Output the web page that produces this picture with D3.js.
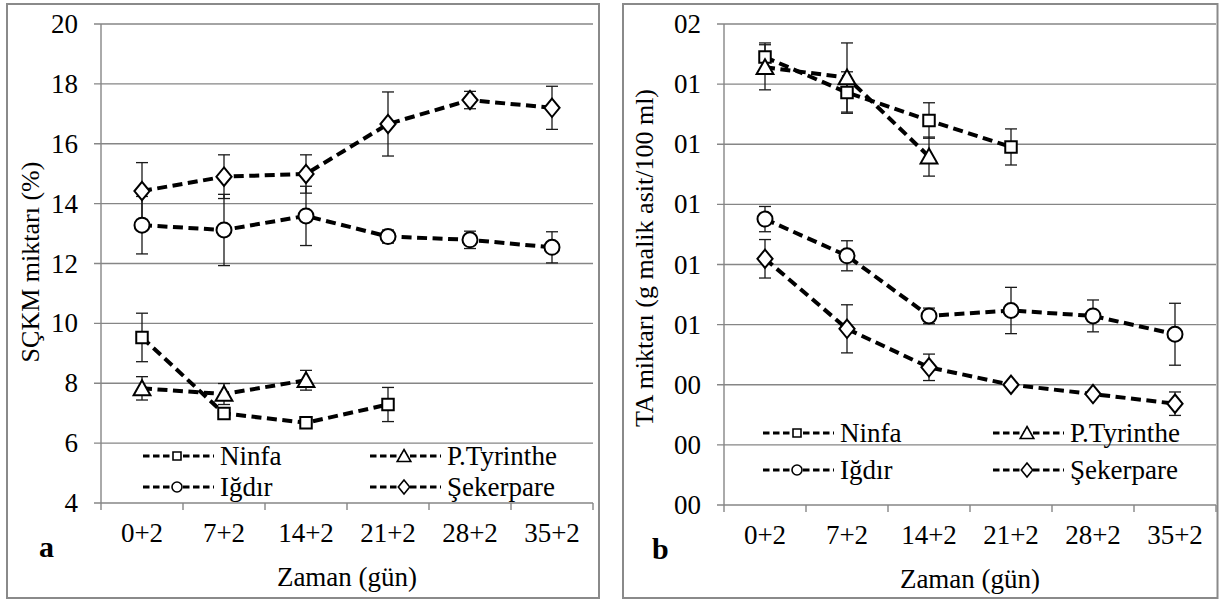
<!DOCTYPE html>
<meta charset="utf-8">
<title>SÇKM ve TA</title>
<style>
    body {
        margin: 0;
        background: #fff;
    }

    .grid {
        stroke: #868686;
        stroke-width: 1.4px;
    }

    .frame {
        fill: none;
        stroke: #8a8a8a;
        stroke-width: 2px;
    }

    .series {
        fill: none;
        stroke: #000;
        stroke-width: 4px;
        stroke-dasharray: 10, 5.5;
    }

    .err {
        stroke: #1a1a1a;
        stroke-width: 1.3px;
    }

    .marker {
        fill: #fff;
        stroke: #000;
        stroke-width: 2px;
    }
</style>

<body>
    <svg id="chart" width="1219" height="601" font-family="'Liberation Serif', 'DejaVu Serif', serif"></svg>
</body>

<script src="https://d3js.org/d3.v7.min.js"></script>
<script>
    // x categories (days of storage)
    var categories = ["0+2", "7+2", "14+2", "21+2", "28+2", "35+2"];
    var seriesNames = ["Ninfa", "P.Tyrinthe", "Iğdır", "Şekerpare"];
    var seriesShapes = ["square", "triangle", "circle", "diamond"];

    // panel a: SÇKM (%)
    var ninfaA = [9.53, 6.99, 6.68, 7.29];
    var ninfaAErr = [0.81, 0.12, 0.08, 0.57];
    var tyrA = [7.83, 7.64, 8.10];
    var tyrAErr = [0.39, 0.35, 0.33];
    var igdirA = [13.28, 13.12, 13.59, 12.90, 12.79, 12.54];
    var igdirAErr = [0.96, 1.19, 0.99, 0.22, 0.29, 0.52];
    var sekerA = [14.42, 14.90, 14.99, 16.66, 17.46, 17.20];
    var sekerAErr = [0.95, 0.73, 0.64, 1.07, 0.29, 0.72];
    var yTicksA = [4, 6, 8, 10, 12, 14, 16, 18, 20];
    var yLabelsA = ["4", "6", "8", "10", "12", "14", "16", "18", "20"];

    // panel b: TA (g malik asit/100 ml)
    var ninfaB = [0.1490, 0.1372, 0.1279, 0.1191];
    var ninfaBErr = [0.0047, 0.0069, 0.0059, 0.0060];
    var tyrB = [0.1456, 0.1422, 0.1159];
    var tyrBErr = [0.0075, 0.0115, 0.0065];
    var igdirB = [0.0951, 0.0829, 0.0629, 0.0647, 0.0629, 0.0568];
    var igdirBErr = [0.0042, 0.0050, 0.0026, 0.0077, 0.0053, 0.0103];
    var sekerB = [0.0819, 0.0586, 0.0458, 0.0400, 0.0369, 0.0337];
    var sekerBErr = [0.0064, 0.0080, 0.0044, 0.0008, 0.0008, 0.0039];
    var yTicksB = [0, 0.02, 0.04, 0.06, 0.08, 0.10, 0.12, 0.14, 0.16];
    // the source shows these labels with the decimal point lost
    var yLabelsB = ["00", "00", "00", "01", "01", "01", "01", "01", "02"];

    var FONT = "'Liberation Serif', 'DejaVu Serif', serif";
    var svg = d3.select("#chart");

    function markerPath(shape, s) {
        // s = approx box size
        var h = s / 2;
        if (shape == "square") return "M" + (-h) + "," + (-h) + "h" + s + "v" + s + "h" + (-s) + "Z";
        if (shape == "diamond") return "M0," + (-h * 1.15) + "L" + (h * 0.95) + ",0L0," + (h * 1.15) + "L" + (-h * 0.95) + ",0Z";
        if (shape == "triangle") return "M0," + (-h) + "L" + (h * 1.05) + "," + (h * 0.85) + "L" + (-h * 1.05) + "," + (h * 0.85) + "Z";
        return d3.arc()({ innerRadius: 0, outerRadius: h, startAngle: 0, endAngle: 2 * Math.PI });
    }

    function txt(sel, size) {
        return sel.attr("font-family", FONT).attr("font-size", size).attr("fill", "#000");
    }

    function drawPanel(p) {
        var g = svg.append("g");

        g.append("rect")
            .attr("class", "frame")
            .attr("x", p.frame[0]).attr("y", p.frame[1])
            .attr("width", p.frame[2]).attr("height", p.frame[3]);

        var x = d3.scaleBand().domain(categories).range([p.left, p.right]).padding(0);
        var y = d3.scaleLinear().domain([p.yTicks[0], p.yTicks[p.yTicks.length - 1]]).range([p.bottom, p.top]);
        var cx = function (i) { return x(categories[i]) + x.bandwidth() / 2; };

        // horizontal gridlines (with the small left tick)
        g.selectAll("line.grid-h")
            .data(p.yTicks)
            .enter().append("line")
            .attr("class", "grid")
            .attr("x1", p.left - 7).attr("x2", p.right)
            .attr("y1", function (d) { return y(d); })
            .attr("y2", function (d) { return y(d); });

        // y axis line
        g.append("line").attr("class", "grid")
            .attr("x1", p.left).attr("x2", p.left)
            .attr("y1", p.top).attr("y2", p.bottom + 7);

        // x ticks at category borders
        var borders = categories.map(function (c) { return x(c); }).concat([p.right]);
        g.selectAll("line.xt")
            .data(borders.slice(1))
            .enter().append("line")
            .attr("class", "grid")
            .attr("x1", function (d) { return d; }).attr("x2", function (d) { return d; })
            .attr("y1", p.bottom).attr("y2", p.bottom + 7);

        // y tick labels
        txt(g.selectAll("text.yl")
            .data(p.yTicks)
            .enter().append("text")
            .attr("x", p.left - 23)
            .attr("y", function (d) { return y(d) + 9; })
            .attr("text-anchor", "end"), 27)
            .text(function (d, i) { return p.yLabels[i]; });

        // x tick labels
        txt(g.selectAll("text.xl")
            .data(categories)
            .enter().append("text")
            .attr("x", function (d, i) { return cx(i); })
            .attr("y", p.bottom + 39)
            .attr("text-anchor", "middle"), 27)
            .text(function (d) { return d; });

        // axis titles
        txt(g.append("text")
            .attr("x", (p.left + p.right) / 2)
            .attr("y", p.bottom + 83)
            .attr("text-anchor", "middle"), 27)
            .text("Zaman (gün)");

        txt(g.append("text")
            .attr("transform", "translate(" + p.yTitleX + "," + p.yTitleY + ") rotate(-90)")
            .attr("text-anchor", "middle"), 26)
            .text(p.yTitle);

        txt(g.append("text")
            .attr("x", p.letterX)
            .attr("y", p.bottom + 54)
            .attr("font-weight", "bold"), 30)
            .text(p.letter);

        // series
        var line = d3.line()
            .x(function (d, i) { return cx(i); })
            .y(function (d) { return y(d); });

        p.series.forEach(function (s, k) {
            var eg = g.append("g");
            s.values.forEach(function (v, i) {
                var e = s.errors[i];
                eg.append("line").attr("class", "err")
                    .attr("x1", cx(i)).attr("x2", cx(i))
                    .attr("y1", y(v - e)).attr("y2", y(v + e));
                [v - e, v + e].forEach(function (w) {
                    eg.append("line").attr("class", "err")
                        .attr("x1", cx(i) - 6).attr("x2", cx(i) + 6)
                        .attr("y1", y(w)).attr("y2", y(w));
                });
            });
        });

        p.series.forEach(function (s, k) {
            g.append("path")
                .datum(s.values)
                .attr("class", "series")
                .attr("d", line);
        });

        p.series.forEach(function (s, k) {
            var shape = seriesShapes[k];
            g.selectAll(null)
                .data(s.values)
                .enter().append("path")
                .attr("class", "marker")
                .attr("transform", function (d, i) { return "translate(" + cx(i) + "," + y(d) + ")"; })
                .attr("d", markerPath(shape, shape == "circle" ? 15 : shape == "diamond" ? 16 : shape == "triangle" ? 16 : 11.5));
        });

        // legend
        seriesNames.forEach(function (name, k) {
            var lx = p.left + (k % 2 == 0 ? p.legendCols[0] : p.legendCols[1]);
            var ly = p.legendRows[Math.floor(k / 2)];
            var lg = g.append("g").attr("transform", "translate(" + lx + "," + ly + ")");
            lg.append("line")
                .attr("x1", 0).attr("x2", 71).attr("y1", 0).attr("y2", 0)
                .style("stroke", "#000").style("stroke-width", "3px")
                .style("stroke-dasharray", "6.5,3.5");
            var sh = seriesShapes[k];
            lg.append("path")
                .attr("class", "marker")
                .style("stroke-width", "1.6px")
                .attr("transform", "translate(34,0)")
                .attr("d", markerPath(sh, sh == "circle" ? 10 : sh == "diamond" ? 12 : sh == "triangle" ? 13 : 8));
            txt(lg.append("text")
                .attr("x", 77).attr("y", 9), 27)
                .text(name);
        });
    }

    drawPanel({
        frame: [7, 4, 592, 594],
        left: 101, right: 593, top: 24, bottom: 503,
        yTicks: yTicksA, yLabels: yLabelsA,
        yTitle: "SÇKM miktarı (%)", yTitleX: 39, yTitleY: 262,
        letter: "a", letterX: 39,
        legendCols: [42, 269], legendRows: [456, 487],
        series: [
            { values: ninfaA, errors: ninfaAErr },
            { values: tyrA, errors: tyrAErr },
            { values: igdirA, errors: igdirAErr },
            { values: sekerA, errors: sekerAErr }
        ]
    });

    drawPanel({
        frame: [623, 4, 594.5, 594],
        left: 724, right: 1216, top: 24, bottom: 505,
        yTicks: yTicksB, yLabels: yLabelsB,
        yTitle: "TA miktarı (g malik asit/100 ml)", yTitleX: 653, yTitleY: 258,
        letter: "b", letterX: 652,
        legendCols: [39, 269], legendRows: [433, 470],
        series: [
            { values: ninfaB, errors: ninfaBErr },
            { values: tyrB, errors: tyrBErr },
            { values: igdirB, errors: igdirBErr },
            { values: sekerB, errors: sekerBErr }
        ]
    });
</script>
